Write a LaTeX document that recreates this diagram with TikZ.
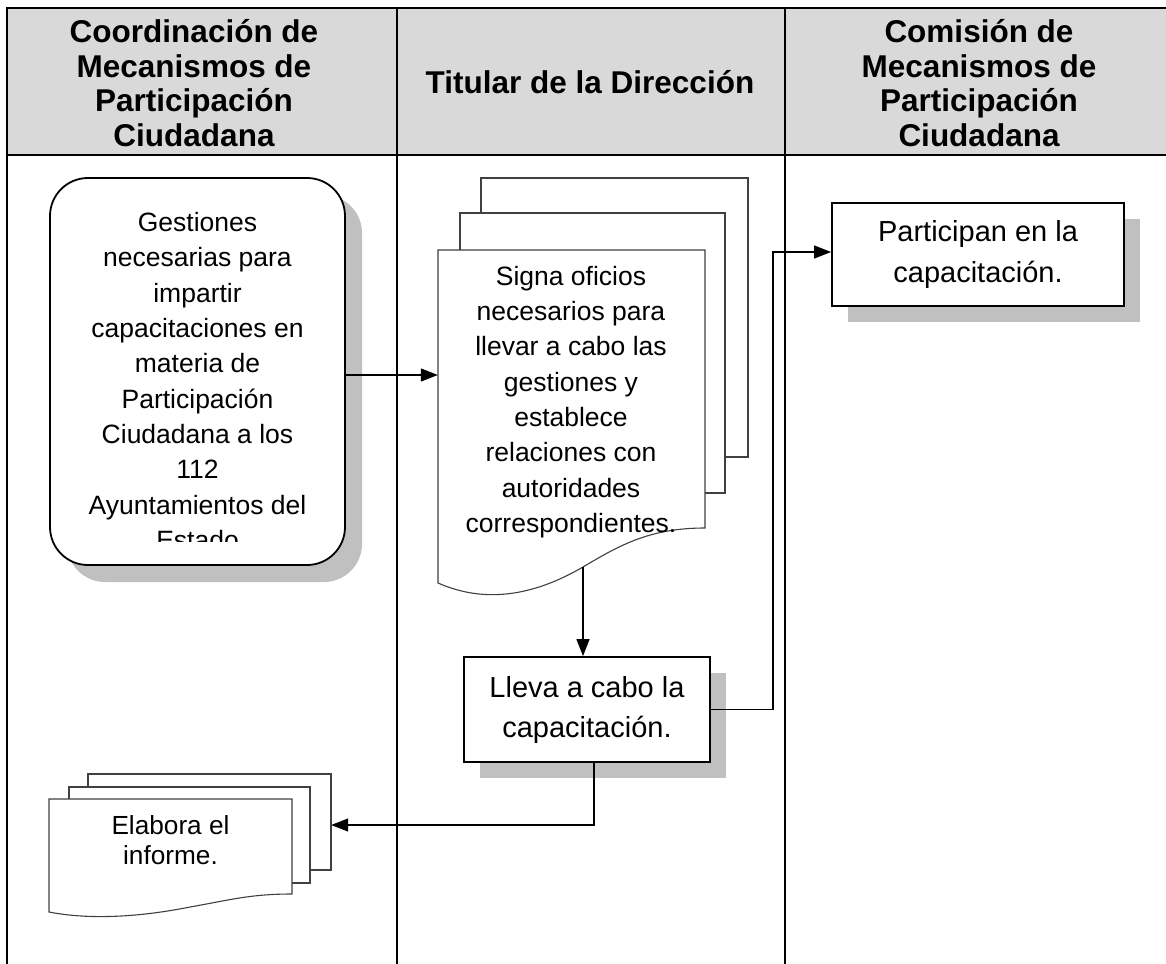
\documentclass[tikz,border=0pt]{standalone}
\usepackage{fontspec}
\setmainfont{Liberation Sans}
\usetikzlibrary{arrows.meta,shadows}
\definecolor{hdrgray}{HTML}{D9D9D9}
\definecolor{shadowgray}{HTML}{C0C0C0}
\definecolor{pageline}{HTML}{404040}
\begin{document}
\begin{tikzpicture}[x=1pt,y=-1pt,
  grid/.style={line width=2.8pt,black,line cap=rect},
  conn/.style={line width=1.2pt,black},
  arr/.style={conn,-{Triangle[length=17pt,width=13pt]}},
  procbox/.style={draw,line width=1.8pt,fill=white,inner sep=0pt,align=center,
    font=\fontsize{29}{40}\selectfont,
    general shadow={fill=shadowgray,shadow xshift=16pt,shadow yshift=-16pt}},
  page/.style={draw=pageline,line width=1.1pt,fill=white},
  body/.style={align=center,font=\fontsize{26.5}{35.3}\selectfont},
  hdr/.style={align=center,font=\bfseries\fontsize{31.5}{34.5}\selectfont}
]
\useasboundingbox (0,0) rectangle (1166,963);

% table
\fill[hdrgray] (7,8) rectangle (1166,155);
\draw[grid] (7,8) -- (1166,8);
\draw[grid] (7,155) -- (1166,155);
\draw[grid] (7,8) -- (7,963);
\draw[grid] (397,8) -- (397,963);
\draw[grid] (785,8) -- (785,963);

\node[hdr] (h1) at (194,83) {Coordinación de\\Mecanismos de\\Participación\\Ciudadana};
\node[hdr] (h2) at (590,82) {Titular de la Dirección};
\node[hdr] (h3) at (979,83) {Comisión de\\Mecanismos de\\Participación\\Ciudadana};

% Gestiones
\node[draw,line width=1.8pt,fill=white,rounded corners=38pt,minimum width=295pt,
  minimum height=387pt,inner sep=0pt,
  general shadow={fill=shadowgray,shadow xshift=17pt,shadow yshift=-17pt}] (gest) at (197.5,371.5) {};
\begin{scope}
\clip (50,178) rectangle (345,541);
\node[body] (gesttxt) at (197.5,381) {Gestiones\\necesarias para\\impartir\\capacitaciones en\\materia de\\Participación\\Ciudadana a los\\112\\Ayuntamientos del\\Estado};
\end{scope}

% Signa document stack
\draw[page] (481,178) rectangle (748,457);
\draw[page] (460,213) rectangle (725,493);
\draw[page] (438,250) -- (705,250) -- (705,528) .. controls (650,528) and (620,545) .. (583,567)
  .. controls (540,592) and (490,606) .. (438,583) -- cycle;
\node[minimum width=267pt,minimum height=333pt,inner sep=0pt] (signafront) at (571.5,416.5) {};
\node[body] (signa) at (571,402) {Signa oficios\\necesarios para\\llevar a cabo las\\gestiones y\\establece\\relaciones con\\autoridades\\correspondientes.};
\coordinate (signaout) at (583,567);

% process boxes
\node[procbox,minimum width=246pt,minimum height=105pt] (lleva) at (587,709.5) {Lleva a cabo la\\capacitación.};
\node[procbox,minimum width=292pt,minimum height=103pt] (part) at (978,254.5) {Participan en la\\capacitación.};

% Elabora document stack
\draw[page] (88,774) rectangle (331,870);
\draw[page] (69,787) rectangle (310,883);
\draw[page] (49,799) -- (292,799) -- (292,894) .. controls (250,894) and (230,900) .. (190,907)
  .. controls (140,917) and (90,920) .. (49,912) -- cycle;
\node[minimum width=243pt,minimum height=96pt,inner sep=0pt] (elab3) at (209.5,825) {};
\node[align=center,font=\fontsize{26.2}{30}\selectfont] (elab) at (170.5,840) {Elabora el\\informe.};

% connectors
\draw[arr] ([yshift=-3.5pt]gest.east) -- ([yshift=-3.5pt]gest.east -| signafront.west);
\draw[arr] (signaout) -- (signaout |- lleva.north);
\draw[arr] (lleva.east) -- ++(62,0) |- ([yshift=2.5pt]part.west);
\draw[arr] ([xshift=7pt]lleva.south) |- (elab3.east);
\end{tikzpicture}
\end{document}
